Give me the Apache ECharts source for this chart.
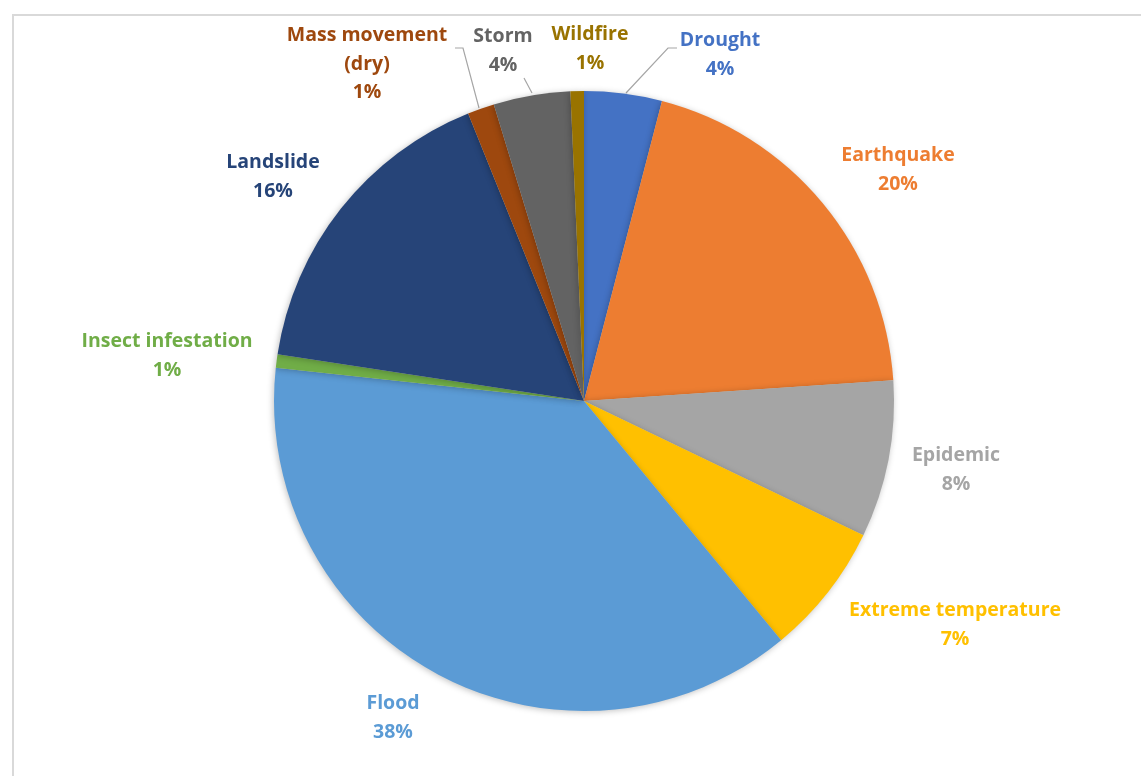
<!DOCTYPE html>
<html>
<head>
<meta charset="utf-8">
<script src="https://cdn.jsdelivr.net/npm/echarts@6/dist/echarts.min.js"></script>
<style>
html,body{margin:0;padding:0;background:#fff;width:1141px;height:776px;overflow:hidden;}
#frame{position:absolute;left:12px;top:14px;width:1200px;height:800px;border-left:2px solid #d9d9d9;border-top:2px solid #d9d9d9;}
#chart{position:absolute;left:0;top:0;width:1141px;height:776px;}
</style>
</head>
<body>
<div id="frame"></div>
<div id="chart"></div>
<script>
const categories = ["Drought","Earthquake","Epidemic","Extreme temperature","Flood","Insect infestation","Landslide","Mass movement\n(dry)","Storm","Wildfire"];
const shares = [4.05, 19.9, 8.2, 6.9, 37.7, 0.7, 16.5, 1.4, 4.0, 0.7];
const colors = ["#4472C4","#ED7D31","#A5A5A5","#FFC000","#5B9BD5","#70AD47","#264478","#9E480E","#636363","#997300"];

// label layout (centre of each text block) and leader lines
const labelPos = {
  "Drought": {x:720, y:55, line:[[626,93],[668,48],[677,48]]},
  "Earthquake": {x:898, y:170},
  "Epidemic": {x:956, y:470},
  "Extreme temperature": {x:955, y:625},
  "Flood": {x:393, y:718},
  "Insect infestation": {x:167, y:356},
  "Landslide": {x:273, y:177},
  "Mass movement\n(dry)": {x:367, y:64, line:[[479,108],[463,48],[455,48]]},
  "Storm": {x:503, y:51, line:[[532,93],[524,78],[524,78]]},
  "Wildfire": {x:590, y:49}
};

const chart = echarts.init(document.getElementById('chart'));
chart.setOption({
  animation:false,
  series:[{
    type:'pie',
    center:[584,401],
    radius:310,
    startAngle:90,
    clockwise:true,
    avoidLabelOverlap:false,
    data: categories.map((c,i)=>({name:c, value:shares[i], itemStyle:{color:colors[i]}, label:{color:colors[i]}})),
    itemStyle:{shadowBlur:6, shadowColor:'rgba(0,0,0,0.25)', shadowOffsetX:-1, shadowOffsetY:1},
    label:{
      show:true,
      position:'outside',
      formatter: p => p.name + '\n' + Math.round(p.percent) + '%',
      fontFamily:'Open Sans',
      fontWeight:'bold',
      fontSize:19.5,
      lineHeight:28.5,
      align:'center'
    },
    labelLine:{show:true, lineStyle:{color:'#a6a6a6', width:1.2}},
    labelLayout: function(params){
      const name = categories[params.dataIndex];
      const p = labelPos[name];
      const r = {x:p.x, y:p.y, align:'center', verticalAlign:'middle'};
      r.labelLinePoints = p.line ? p.line : [[p.x,p.y],[p.x,p.y],[p.x,p.y]];
      return r;
    }
  }]
});
</script>
</body>
</html>
